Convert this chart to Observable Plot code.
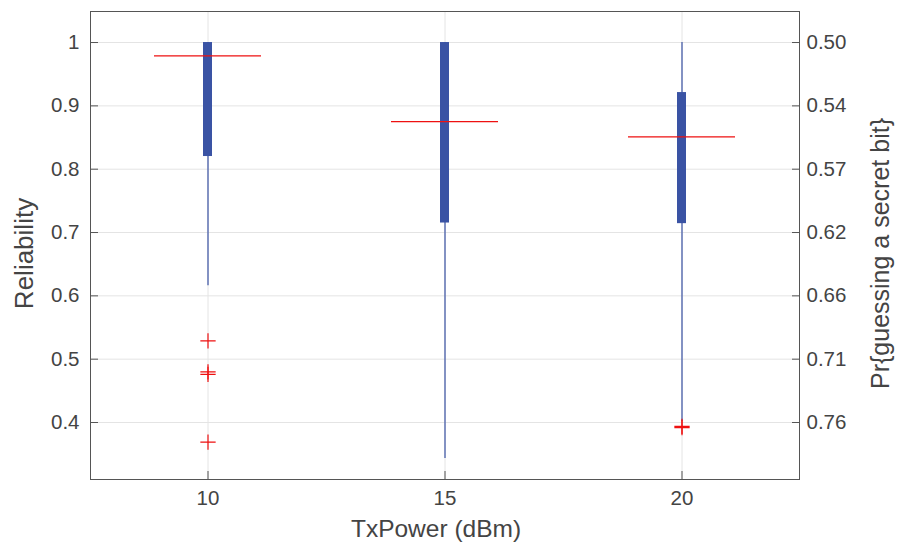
<!DOCTYPE html>
<html><head><meta charset="utf-8">
<script src="https://cdn.jsdelivr.net/npm/d3@7"></script>
<script src="https://cdn.jsdelivr.net/npm/@observablehq/plot@0.6"></script>
<style>
html,body{margin:0;padding:0;background:#fff;}
#chart svg{display:block;}
</style>
</head><body><div id="chart"></div>
<script>
// ---- data ----
const txPower      = ["10", "15", "20"];
const q1           = [0.820, 0.715, 0.714];
const q3           = [1.000, 1.000, 0.921];
const medians      = [0.979, 0.875, 0.851];
const whiskerLow   = [0.616, 0.343, 0.402];
const whiskerHigh  = [1.000, 1.000, 1.000];
const outlierTx    = ["10", "10", "10", "10", "20", "20"];
const outlierVal   = [0.529, 0.480, 0.476, 0.369, 0.394, 0.392];
const yTicks       = [0.4, 0.5, 0.6, 0.7, 0.8, 0.9, 1];
const yTickLabels  = ["0.4", "0.5", "0.6", "0.7", "0.8", "0.9", "1"];
const rightTickLabels = ["0.76", "0.71", "0.66", "0.62", "0.57", "0.54", "0.50"];

const stats = txPower.map((t, i) => ({tx: t, q1: q1[i], q3: q3[i], med: medians[i], lo: whiskerLow[i], hi: whiskerHigh[i]}));
const outliers = outlierTx.map((t, i) => ({tx: t, v: outlierVal[i]}));

const blue = "#3a53a4";
const textColor = "#444444";
const gridColor = "#e4e4e4";

const chart = Plot.plot({
  width: 897,
  height: 546,
  marginLeft: 90,
  marginRight: 98,
  marginTop: 11,
  marginBottom: 67,
  style: {fontFamily: "'Liberation Sans', Arial, Helvetica, sans-serif", background: "#fff", color: textColor},
  x: {type: "band", domain: txPower, paddingInner: 0.55, paddingOuter: 0.27},
  y: {domain: [0.310, 1.049]},
  marks: [
    Plot.gridY(yTicks, {stroke: gridColor, strokeOpacity: 1}),
    Plot.gridX(txPower, {stroke: gridColor, strokeOpacity: 1}),
    Plot.ruleX(stats, {x: "tx", y1: "lo", y2: "hi", stroke: blue, strokeWidth: 1.2}),
    Plot.barY(stats, {x: "tx", y1: "q1", y2: "q3", fill: blue, insetLeft: 49, insetRight: 49}),
    Plot.tickY(stats, {x: "tx", y: "med", stroke: "#ee1111", strokeWidth: 1.2}),
    Plot.dot(outliers, {x: "tx", y: "v", symbol: "plus", r: 5, stroke: "#ee1111", strokeWidth: 1.2}),
    Plot.frame({stroke: "#555", strokeWidth: 1}),
    Plot.axisY({anchor: "left", ticks: yTicks, tickFormat: d => yTickLabels[yTicks.indexOf(d)],
      tickSize: -8, tickPadding: 19, fontSize: 20.5, label: null, color: textColor, stroke: "#555"}),
    Plot.axisY({anchor: "right", ticks: yTicks, tickFormat: d => rightTickLabels[yTicks.indexOf(d)],
      tickSize: -8, tickPadding: 15, fontSize: 20.5, label: null, color: textColor, stroke: "#555"}),
    Plot.axisX({anchor: "bottom", ticks: txPower, tickSize: -8, tickPadding: 19, fontSize: 20.5,
      label: null, color: textColor, stroke: "#555"}),
    Plot.text(["Reliability"], {frameAnchor: "left", dx: -66, dy: 8, rotate: -90, textAnchor: "middle",
      lineAnchor: "middle", fontSize: 26, fill: textColor}),
    Plot.text(["Pr{guessing a secret bit}"], {frameAnchor: "right", dx: 81, dy: 8, rotate: -90, textAnchor: "middle",
      lineAnchor: "middle", fontSize: 25, fill: textColor}),
    Plot.text(["TxPower (dBm)"], {frameAnchor: "bottom", dx: -9, dy: 50, textAnchor: "middle",
      lineAnchor: "middle", fontSize: 24.5, fill: textColor})
  ]
});
document.getElementById("chart").appendChild(chart);
</script>
</body></html>
